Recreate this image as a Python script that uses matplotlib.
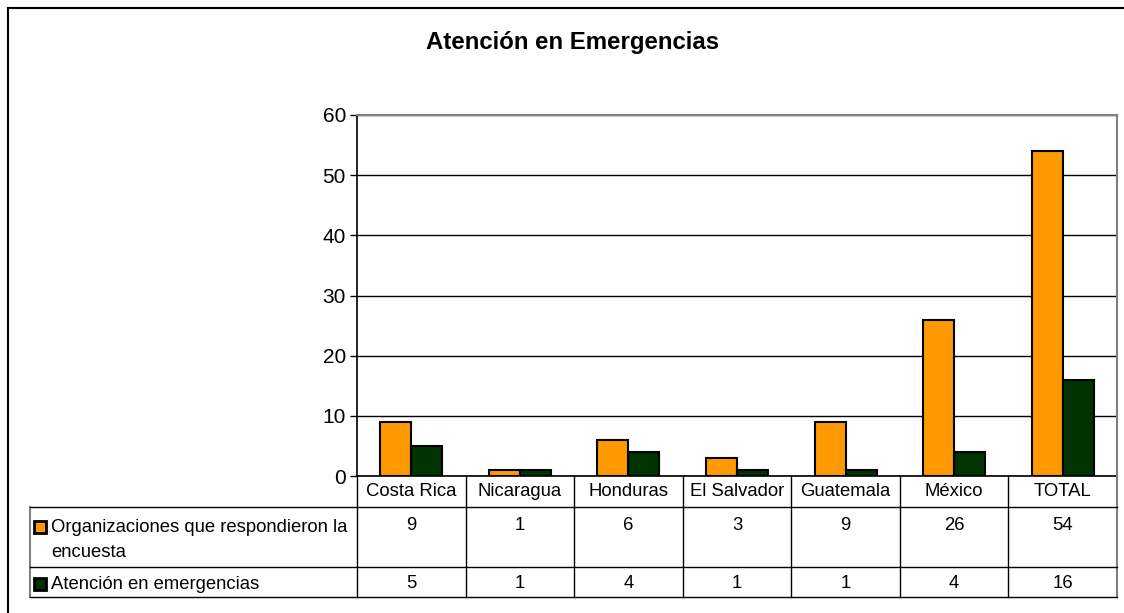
import matplotlib.pyplot as plt
from matplotlib.patches import Rectangle
from matplotlib.lines import Line2D
import numpy as np

plt.rcParams['font.family'] = ['Liberation Sans', 'DejaVu Sans']

categories = ["Costa Rica", "Nicaragua", "Honduras", "El Salvador", "Guatemala", "México", "TOTAL"]
organizaciones = [9, 1, 6, 3, 9, 26, 54]
emergencias = [5, 1, 4, 1, 1, 4, 16]
series_names = ["Organizaciones que respondieron la\nencuesta", "Atención en emergencias"]
colors = ["#FF9900", "#003300"]

W, H = 1124, 613
fig = plt.figure(figsize=(W / 100, H / 100), dpi=100)


def fx(px):
    return px / W


def fy(py):
    return 1 - py / H


# outer chart border (left and top)
fig.add_artist(Line2D([fx(8), fx(8)], [fy(8), 0], color="black", lw=1.5))
fig.add_artist(Line2D([fx(8), 1], [fy(8), fy(8)], color="black", lw=1.5))

fig.text(fx(573), fy(42), "Atención en Emergencias", ha="center", va="center",
         fontsize=17.3, fontweight="bold")

# plot area
L, R, T, B = 357, 1117, 115, 476
ax = fig.add_axes([fx(L), fy(B), fx(R) - fx(L), fy(T) - fy(B)])
x = np.arange(len(categories))
bw = 0.285
ax.bar(x - bw / 2, organizaciones, bw, color=colors[0], edgecolor="black", lw=1.5, zorder=3)
ax.bar(x + bw / 2, emergencias, bw, color=colors[1], edgecolor="black", lw=1.5, zorder=3)
ax.set_xlim(-0.5, len(categories) - 0.5)
ax.set_ylim(0, 60)
ax.set_yticks(range(0, 61, 10))
ax.tick_params(axis="y", labelsize=15, length=5, width=1, direction="out", pad=3)
ax.set_xticks([])
ax.yaxis.grid(True, color="black", lw=1)
for s in ["top", "right"]:
    ax.spines[s].set_color("#808080")
    ax.spines[s].set_linewidth(1.5)
ax.spines["left"].set_linewidth(1.2)
ax.spines["bottom"].set_linewidth(1.2)

# data table below the plot
col_w = (R - L) / len(categories)
row_y = [476, 507, 567, 597]
TL = 30
tbl = dict(color="black", lw=1)
fig.add_artist(Line2D([fx(L), fx(L)], [fy(476), fy(597)], **tbl))
for i in range(1, len(categories)):
    xx = L + i * col_w
    fig.add_artist(Line2D([fx(xx), fx(xx)], [fy(476), fy(597)], **tbl))
fig.add_artist(Line2D([fx(R), fx(R)], [fy(476), fy(597)], color="#808080", lw=1.5))
fig.add_artist(Line2D([fx(TL), fx(TL)], [fy(507), fy(597)], color="#808080", lw=1.5))
for yy in row_y[1:]:
    fig.add_artist(Line2D([fx(TL), fx(R)], [fy(yy), fy(yy)], **tbl))

fs = 13.3
for i, c in enumerate(categories):
    cx = L + (i + 0.5) * col_w
    fig.text(fx(cx), fy(492), c, ha="center", va="center", fontsize=fs)
    fig.text(fx(cx), fy(526), str(organizaciones[i]), ha="center", va="center", fontsize=fs)
    fig.text(fx(cx), fy(584), str(emergencias[i]), ha="center", va="center", fontsize=fs)

key_y = [527, 584]
for j, name in enumerate(series_names):
    fig.add_artist(Rectangle((fx(34), fy(key_y[j] + 6)), fx(12), fy(0) - fy(12),
                             facecolor=colors[j], edgecolor="black", lw=2))
    fig.text(fx(51), fy(key_y[j] - 8), name, ha="left", va="top", fontsize=fs,
             linespacing=1.62)

fig.savefig("out.png", dpi=100)
